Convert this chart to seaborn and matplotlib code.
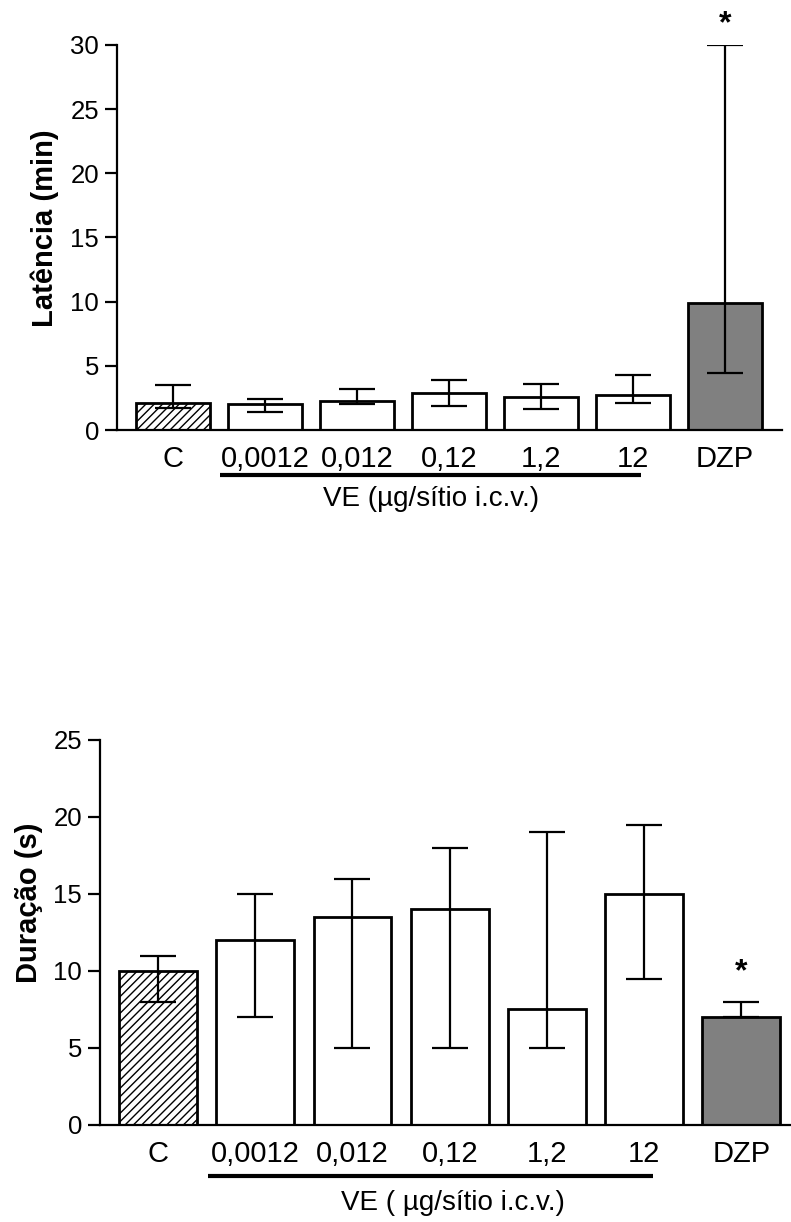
import numpy as np
import pandas as pd
import matplotlib
matplotlib.use("Agg")
import matplotlib.pyplot as plt
import matplotlib.transforms as mtransforms
import seaborn as sns

sns.set_style("ticks")
plt.rcParams['font.family'] = ['Liberation Sans', 'DejaVu Sans']
plt.rcParams['text.color'] = 'black'
plt.rcParams['axes.labelcolor'] = 'black'
plt.rcParams['xtick.color'] = 'black'
plt.rcParams['ytick.color'] = 'black'
plt.rcParams['axes.edgecolor'] = 'black'

groups = ['C', '0,0012', '0,012', '0,12', '1,2', '12', 'DZP']
bar_colors = ['white', 'white', 'white', 'white', 'white', 'white', '#808080']

# latência (min): mediana e intervalo
lat_med = [2.1, 2.0, 2.3, 2.9, 2.6, 2.7, 9.9]
lat_low = [1.7, 1.4, 2.0, 1.85, 1.65, 2.1, 4.45]
lat_high = [3.5, 2.4, 3.2, 3.9, 3.55, 4.25, 30.0]

# duração (s)
dur_med = [10.0, 12.0, 13.5, 14.0, 7.5, 15.0, 7.0]
dur_low = [8.0, 7.0, 5.0, 5.0, 5.0, 9.5, 7.0]
dur_high = [11.0, 15.0, 16.0, 18.0, 19.0, 19.5, 8.0]

fig = plt.figure(figsize=(7.91, 12.22), dpi=100)
ax1 = fig.add_axes([0.1479, 0.6481, 0.8407, 0.3151])
ax2 = fig.add_axes([0.1264, 0.0794, 0.8723, 0.3151])


def draw_panel(ax, med, low, high, ymax, ylabel, xlabel, xlim, line_y, label_pos, ylab_pos, star_y):
    df = pd.DataFrame({'grupo': groups, 'valor': med})
    sns.barplot(data=df, x='grupo', y='valor', hue='grupo', palette=bar_colors,
                edgecolor='black', linewidth=2, width=0.8, legend=False,
                errorbar=None, ax=ax)
    ax.patches[0].set_hatch('////')
    med = np.array(med)
    yerr = [med - np.array(low), np.array(high) - med]
    ax.errorbar(np.arange(len(groups)), med, yerr=yerr, fmt='none',
                ecolor='black', elinewidth=1.6, capsize=13.3, capthick=1.6, zorder=5)
    ax.set_xlim(*xlim)
    ax.set_ylim(0, ymax)
    ax.set_yticks(np.arange(0, ymax + 1, 5))
    sns.despine(ax=ax)
    ax.spines['left'].set_linewidth(1.6)
    ax.spines['bottom'].set_linewidth(1.6)
    ax.tick_params(axis='y', length=9, width=1.6, pad=4, labelsize=18.5)
    ax.tick_params(axis='x', length=0, pad=11, labelsize=21)
    ax.set_xlabel(xlabel, fontsize=20)
    ax.xaxis.set_label_coords(*label_pos)
    ax.set_ylabel(ylabel, fontsize=21, fontweight='bold')
    ax.yaxis.set_label_coords(*ylab_pos)
    trans = mtransforms.blended_transform_factory(ax.transData, ax.transAxes)
    ax.plot([1 - 0.49, 5 + 0.09], [line_y, line_y], color='black', lw=3,
            transform=trans, clip_on=False, solid_capstyle='butt')
    ax.text(6, star_y, '*', ha='center', va='center', fontsize=23, fontweight='bold')


draw_panel(ax1, lat_med, lat_low, lat_high, 30, 'Latência (min)',
           'VE (µg/sítio i.c.v.)', (-0.61, 6.62), -0.117, (0.472, -0.145),
           (-0.087, 0.525), 31.6)
draw_panel(ax2, dur_med, dur_low, dur_high, 25, 'Duração (s)',
           'VE ( µg/sítio i.c.v.)', (-0.597, 6.5), -0.1325, (0.511, -0.169),
           (-0.082, 0.577), 9.9)

fig.savefig('out.png', dpi=100)
